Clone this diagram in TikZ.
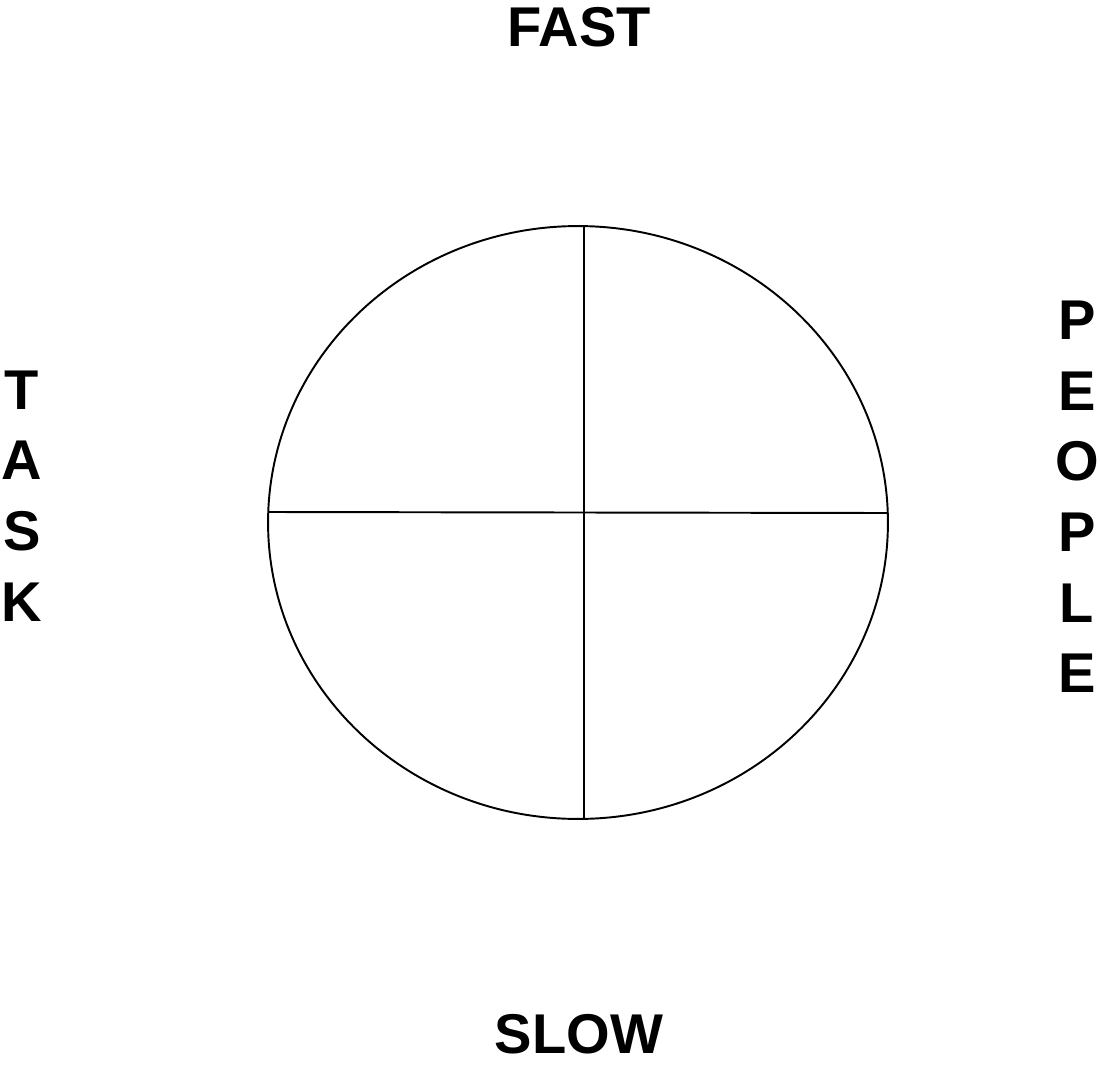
\documentclass[tikz,border=0pt]{standalone}
\usepackage{fontspec}
\setmainfont{Liberation Sans}
\usepackage{tikz}
\usetikzlibrary{positioning,calc}
\tikzset{pole/.style={font=\fontsize{31.9}{40.2}\selectfont\bfseries,align=center,inner sep=0pt,text=black}, rim/.style={draw=black,line width=1.1pt}, divider/.style={draw=black,line width=1.1pt}}

\begin{document}
\begin{tikzpicture}[x=0.02cm,y=-0.02cm]
\useasboundingbox (0,0) rectangle (1100,1065);
\draw[rim] (578,522.5) ellipse [x radius=6.2cm, y radius=5.93cm];
\coordinate (top) at (584,226);
\coordinate (bottom) at (584,819);
\coordinate (left) at (268,512);
\coordinate (right) at (888,513);
\draw[divider] (top)--(bottom);
\draw[divider] (left)--(right);
\node[pole] (fast) at (579,27) {FAST};
\node[pole] (slow) at (579,1034) {SLOW};
\node[pole] (task) at (22,496) {T\\A\\S\\K};
\node[pole] (people) at (1077,497) {P\\E\\O\\P\\L\\E};
\end{tikzpicture}
\end{document}
